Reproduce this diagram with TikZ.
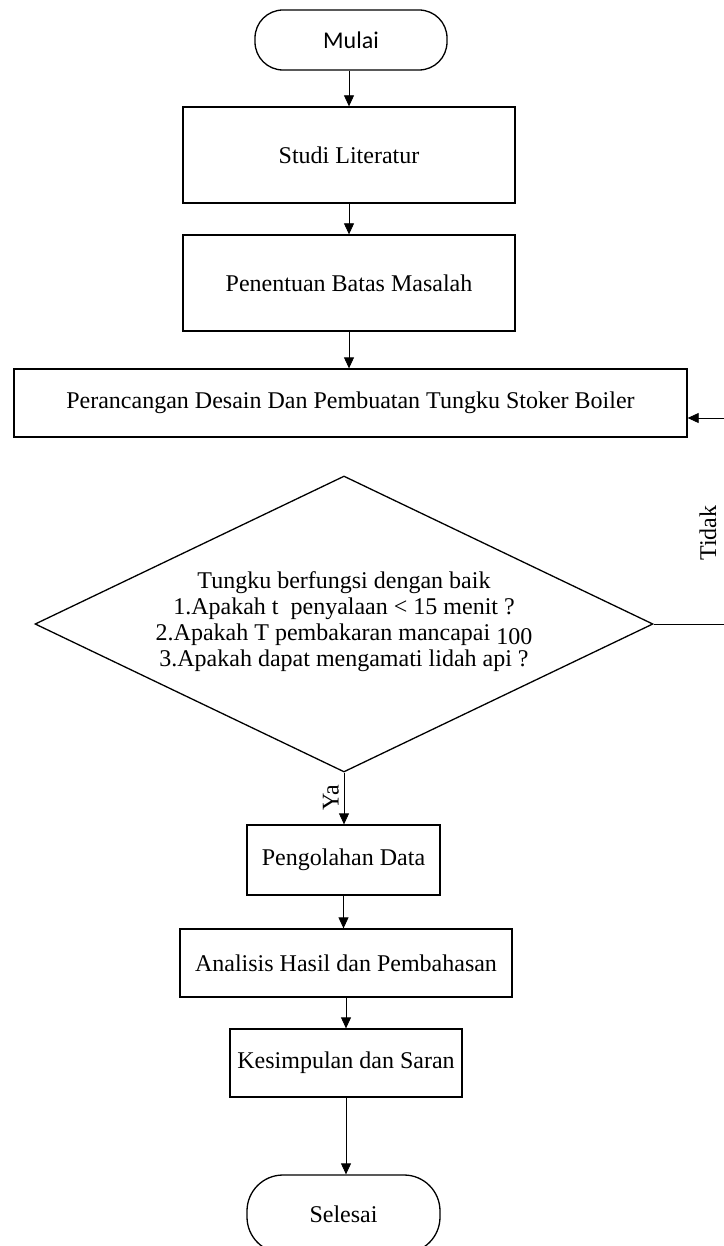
\documentclass[tikz,border=0pt]{standalone}
\usepackage{fontspec}
\setmainfont{Liberation Serif}
\newfontfamily\calibri{Carlito}
\usetikzlibrary{arrows.meta,shapes.geometric}
\begin{document}
\begin{tikzpicture}[x=1pt,y=-1pt,
  font=\fontsize{24}{26}\selectfont,
  box/.style={draw, line width=1.3pt, inner sep=0pt},
  term/.style={draw, line width=1.3pt, inner sep=0pt, rounded corners=28pt},
  cond/.style={draw, line width=1.3pt, inner sep=0pt, diamond},
  conn/.style={line width=0.8pt, -{Triangle[length=11pt,width=10pt]}},
  plain/.style={line width=0.8pt},
  lbl/.style={rotate=90, inner sep=0pt}]
\useasboundingbox (0,0) rectangle (723,1246);
\node[term, minimum width=192pt, minimum height=60pt, font=\calibri\fontsize{24}{26}\selectfont] (mulai) at (351,40) {Mulai};
\node[box, minimum width=332pt, minimum height=96pt] (studi) at (349,155) {Studi Literatur};
\node[box, minimum width=332pt, minimum height=96pt] (batas) at (349,283) {Penentuan Batas Masalah};
\node[box, minimum width=673pt, minimum height=68pt] (desain) at (350.5,403) {Perancangan Desain Dan Pembuatan Tungku Stoker Boiler};
\node[cond, minimum width=618pt, minimum height=296pt] (cek) at (344,624) {};
\node[align=center, inner sep=0pt] (cektext) at (344,622) {Tungku berfungsi dengan baik\\
1.Apakah t\ \ penyalaan < 15 menit ?\\
2.Apakah T pembakaran mancapai \raisebox{-4pt}{100}\hspace*{40pt}\\
3.Apakah dapat mengamati lidah api ?};
\node[box, minimum width=193pt, minimum height=70pt] (olah) at (343.5,860) {Pengolahan Data};
\node[box, minimum width=332pt, minimum height=68pt] (analisis) at (346,963) {Analisis Hasil dan Pembahasan};
\node[box, minimum width=232pt, minimum height=68pt] (simpul) at (346,1063) {Kesimpulan dan Saran};
\node[term, minimum width=193pt, minimum height=78pt, rounded corners=36pt] (selesai) at (343.5,1214) {Selesai};
\node[lbl] (tidak) at (708,533) {Tidak};
\node[lbl] (ya) at (331,798) {Ya};
\coordinate (r1) at (725,624);
\coordinate (r2) at (725,418);
\draw[conn] (mulai.south -| studi.north) -- (studi.north);
\draw[conn] (studi) -- (batas);
\draw[conn] (batas.south) -- (batas.south |- desain.north);
\draw[conn] (cek.south) -- (cek.south |- olah.north);
\draw[conn] (olah.south) -- (olah.south |- analisis.north);
\draw[conn] (analisis.south -| simpul.north) -- (simpul.north);
\draw[conn] (simpul.south) -- (simpul.south |- selesai.north);
\draw[plain] (cek.east) -- (r1) -- (r2);
\draw[conn] (r2) -- (r2 -| desain.east);
\end{tikzpicture}
\end{document}
